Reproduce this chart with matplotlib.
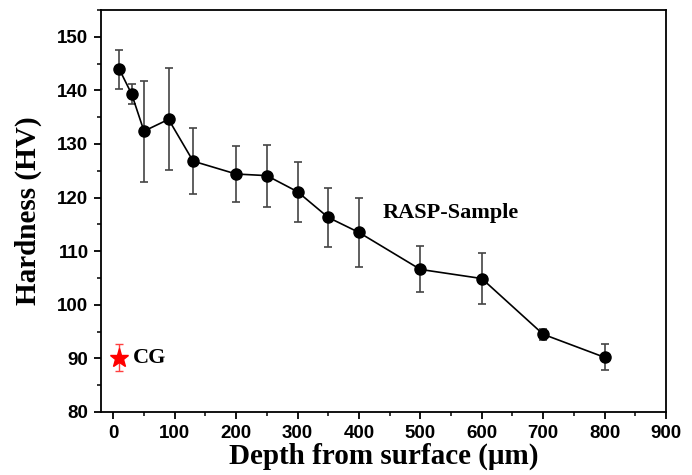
import matplotlib.pyplot as plt
from matplotlib.ticker import MultipleLocator

# depth (um), hardness (HV) and error for the RASP sample
depth = [10, 30, 50, 90, 130, 200, 250, 300, 350, 400, 500, 600, 700, 800]
hardness = [143.9, 139.3, 132.4, 134.6, 126.8, 124.4, 124.1, 121.1, 116.3, 113.5, 106.6, 104.9, 94.5, 90.2]
err = [3.6, 1.9, 9.4, 9.5, 6.1, 5.3, 5.8, 5.6, 5.5, 6.4, 4.3, 4.8, 1.0, 2.4]

# coarse grain reference
cg_depth = [10]
cg_hardness = [90.1]
cg_err = [2.5]

serif = ['Liberation Serif', 'DejaVu Serif']
sans = ['Liberation Sans', 'DejaVu Sans']

fig = plt.figure(figsize=(6.92, 4.75), dpi=100)
ax = fig.add_axes([101 / 692, 63 / 475, 565 / 692, 402 / 475])

ax.errorbar(depth, hardness, yerr=err, color='black', ecolor='#444444',
            elinewidth=1.2, capsize=3, capthick=1.2, lw=1.2,
            marker='o', markersize=8)
ax.errorbar(cg_depth, cg_hardness, yerr=cg_err, color='red', ecolor='#ff4040',
            elinewidth=1.0, capsize=3, capthick=1.0, ls='none',
            marker='*', markersize=14)

ax.text(438, 117.2, 'RASP-Sample', family=serif, fontweight='bold', fontsize=16,
        va='center', ha='left')
ax.text(32, 90, 'CG', family=serif, fontweight='bold', fontsize=16,
        va='center', ha='left')

ax.set_xlim(-20, 900)
ax.set_ylim(80, 155)
ax.xaxis.set_major_locator(MultipleLocator(100))
ax.xaxis.set_minor_locator(MultipleLocator(50))
ax.yaxis.set_major_locator(MultipleLocator(10))
ax.yaxis.set_minor_locator(MultipleLocator(5))
ax.tick_params(which='major', direction='out', length=5, width=1.3, top=False, right=False, pad=4)
ax.tick_params(which='minor', direction='out', length=3, width=1.1, top=False, right=False)
for lab in ax.get_xticklabels() + ax.get_yticklabels():
    lab.set_family(sans)
    lab.set_fontweight('bold')
    lab.set_fontsize(13.5)

for s in ax.spines.values():
    s.set_linewidth(1.3)

ax.set_xlabel('Depth from surface (μm)', family=serif, fontweight='bold', fontsize=21, labelpad=1)
ax.set_ylabel('Hardness (HV)', family=serif, fontweight='bold', fontsize=21, labelpad=11)

fig.savefig('out.png', dpi=100)
